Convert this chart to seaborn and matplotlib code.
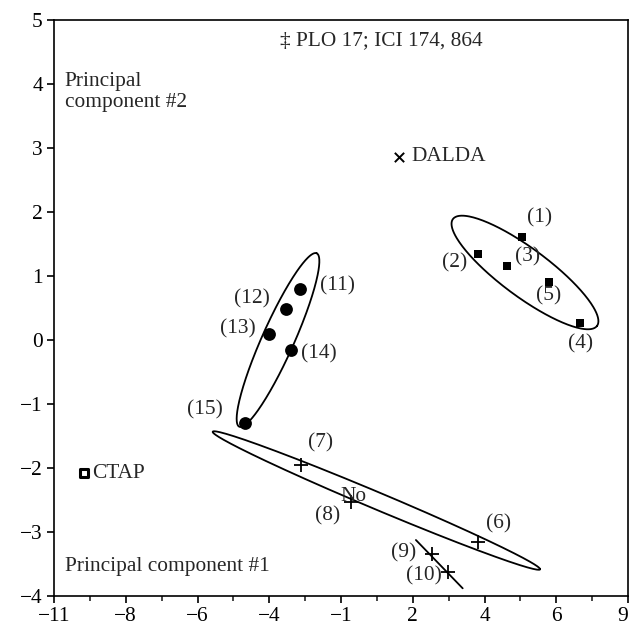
import numpy as np
import matplotlib
matplotlib.use("Agg")
import matplotlib.pyplot as plt
import seaborn as sns

# Точки (1)-(5): квадрати
sq_x = [5.31, 3.78, 4.79, 7.34, 6.24]
sq_y = [1.61, 1.34, 1.16, 0.26, 0.91]
sq_lab = ["(1)", "(2)", "(3)", "(4)", "(5)"]

# Точки (6)-(10): хрестики
pl_x = [3.78, -2.40, -0.65, 2.18, 2.74]
pl_y = [-3.16, -1.96, -2.53, -3.34, -3.63]
pl_lab = ["(6)", "(7)", "(8)", "(9)", "(10)"]

# Точки (11)-(15): кола
ci_x = [-2.43, -2.92, -3.50, -2.75, -4.34]
ci_y = [0.80, 0.48, 0.10, -0.16, -1.29]
ci_lab = ["(11)", "(12)", "(13)", "(14)", "(15)"]

# Окремі зразки
dalda_xy = (1.02, 2.86)
ctap_xy = (-9.94, -2.08)
plo_xy = (-3.13, 4.67)

# Еліпси: центр, кінець великої осі
ell_sq = ((5.41, 1.055), (7.92, 0.22))
ell_ci = ((-3.195, 0.0), (-1.847, 1.355))
ell_pl = ((0.232, -2.508), (5.934, -3.583))
line_910 = ([1.61, 3.24], [-3.125, -3.88])

# Осі
x_min, x_max = -11, 9
xtick_labels = ["\u221211", "\u22128", "\u22126", "\u22124", "\u22121", "2", "4", "6", "9"]
yticks = [-4, -3, -2, -1, 0, 1, 2, 3, 4, 5]

# зсуви підписів у пікселях
sq_off = [(17, 19), (-24, -9), (20, 9), (0, -20), (0, -14)]
pl_off = [(20, 18), (20, 23), (-23, -14), (-29, 1), (-24, -4)]
ci_off = [(38, 3), (-34, 10), (-31, 5), (28, -4), (-40, 13)]

sns.set_style("ticks")
plt.rcParams['font.family'] = ['Liberation Serif', 'DejaVu Serif']
fs = 15.4

fig = plt.figure(figsize=(6.31, 6.29), dpi=100)
ax = fig.add_axes([54 / 631, 1 - 596 / 629, 574 / 631, 576 / 629])
ax.set_xlim(x_min, x_max)
ax.set_ylim(-4, 5)

sns.scatterplot(x=sq_x, y=sq_y, marker='s', s=30, color='black', linewidth=0, ax=ax)
sns.scatterplot(x=ci_x, y=ci_y, marker='o', s=85, color='black', linewidth=0, ax=ax)
sns.scatterplot(x=pl_x, y=pl_y, marker='+', s=110, color='black', linewidth=1.3, ax=ax)
sns.scatterplot(x=[dalda_xy[0]], y=[dalda_xy[1]], marker='x', s=45, color='black', linewidth=1.4, ax=ax)
sns.scatterplot(x=[ctap_xy[0]], y=[ctap_xy[1]], marker='s', s=34, facecolor='white',
                edgecolor='black', linewidth=2.2, ax=ax)


def draw_ellipse(center, tip, half_minor_px):
    t = ax.transData
    c = t.transform(center)
    p = t.transform(tip)
    major = p - c
    u = major / np.hypot(*major)
    v = np.array([-u[1], u[0]]) * half_minor_px
    th = np.linspace(0, 2 * np.pi, 300)
    pts = c + np.outer(np.cos(th), major) + np.outer(np.sin(th), v)
    d = t.inverted().transform(pts)
    ax.plot(d[:, 0], d[:, 1], color='black', lw=1.3)


draw_ellipse(*ell_sq, 24)
draw_ellipse(*ell_ci, 16)
draw_ellipse(*ell_pl, 8.5)
ax.plot(line_910[0], line_910[1], color='black', lw=1.3)

for xs, ys, labs, offs in [(sq_x, sq_y, sq_lab, sq_off),
                           (pl_x, pl_y, pl_lab, pl_off),
                           (ci_x, ci_y, ci_lab, ci_off)]:
    for x, y, lab, off in zip(xs, ys, labs, offs):
        ax.annotate(lab, (x, y), xytext=off, textcoords='offset pixels',
                    ha='center', va='center', fontsize=fs)

ax.annotate("No", (pl_x[2], pl_y[2]), xytext=(2, 5), textcoords='offset pixels',
            ha='center', va='center', fontsize=fs)
ax.annotate("DALDA", dalda_xy, xytext=(12, 0), textcoords='offset pixels',
            ha='left', va='center', fontsize=fs)
ax.annotate("CTAP", ctap_xy, xytext=(8, 0), textcoords='offset pixels',
            ha='left', va='center', fontsize=fs)
ax.text(plo_xy[0], plo_xy[1], "\u2021 PLO 17; ICI 174, 864", ha='left', va='center', fontsize=fs)

ax.text(0.019, 0.91, "Principal\ncomponent #2", transform=ax.transAxes,
        ha='left', va='top', fontsize=fs, linespacing=1.15)
ax.text(0.019, 0.052, "Principal component #1", transform=ax.transAxes,
        ha='left', va='center', fontsize=fs)

xt = np.linspace(x_min, x_max, len(xtick_labels))
ax.set_xticks(xt)
ax.set_xticklabels(xtick_labels)
ax.get_xticklabels()[-1].set_horizontalalignment('right')
ax.get_xticklabels()[0].set_horizontalalignment('center')
ax.set_xticks((xt[:-1] + xt[1:]) / 2, minor=True)
ax.set_yticks(yticks)
ax.set_yticklabels([str(v).replace('-', '\u2212') for v in yticks])

ax.tick_params(axis='both', which='major', direction='out', length=5, width=1.2,
               labelsize=fs, colors='black', pad=3)
ax.tick_params(axis='x', which='minor', direction='out', length=3.5, width=1.2)
for s in ax.spines.values():
    s.set_visible(True)
    s.set_linewidth(1.2)
    s.set_color('black')
ax.set_xlabel("")
ax.set_ylabel("")

fig.savefig("out.png", dpi=100)
